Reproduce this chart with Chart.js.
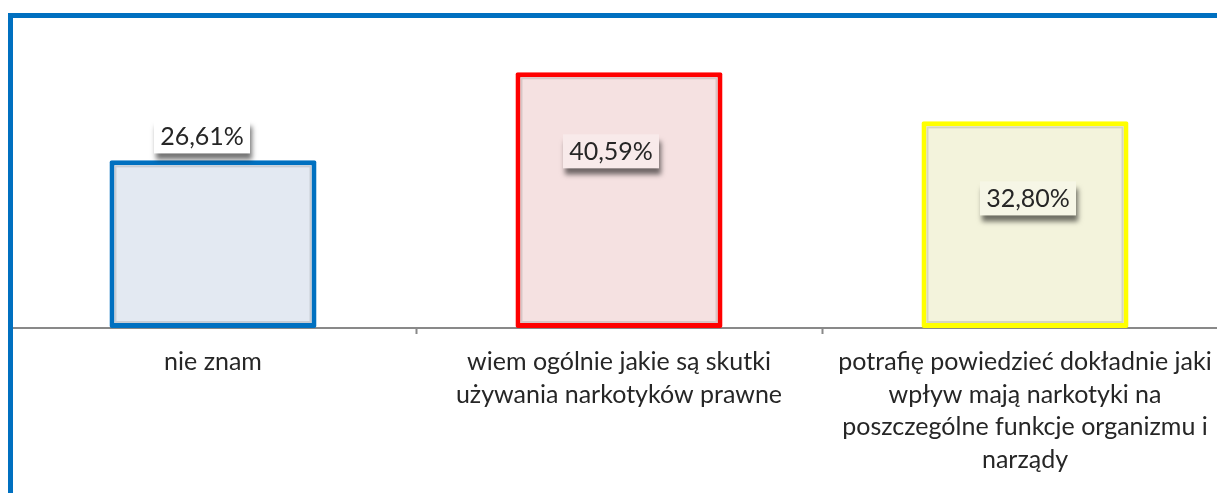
<!DOCTYPE html>
<html>
<head>
<meta charset="utf-8">
<script src="https://cdn.jsdelivr.net/npm/chart.js@4.4.1/dist/chart.umd.min.js"></script>
<style>
  html, body { margin: 0; padding: 0; background: #fff; overflow: hidden; width: 1217px; height: 493px; }
  #wrap  { position: absolute; left: 0; top: 0; width: 1240px; height: 493px; }
  #frame { position: absolute; left: 8px; top: 13px; width: 1300px; height: 600px;
           border-left: 5px solid #0070c0; border-top: 5px solid #0070c0; pointer-events: none; }
</style>
</head>
<body>
<div id="wrap"><canvas id="chart" width="1240" height="493"></canvas></div>
<div id="frame"></div>
<script>
/* Wiedza o skutkach narkotyków — bar chart */

// ── Data ──────────────────────────────────
const categories = [
  ["nie znam"],
  ["wiem ogólnie jakie są skutki", "używania narkotyków prawne"],
  ["potrafię powiedzieć dokładnie jaki", "wpływ mają narkotyki na", "poszczególne funkcje organizmu i", "narządy"],
];
const values      = [26.61, 40.59, 32.80];
const valueLabels = ["26,61%", "40,59%", "32,80%"];

// ── Styles ────────────────────────────────
const borderColors = ["#0070c0", "#ff0000", "#ffff00"];
const fillColors   = ["#e3e9f2", "#f5e1e1", "#f3f3dc"];
const labelShift   = [[-11, -24], [-8, 79], [3, 77]];   // label box centre vs bar top
const FONT = "Lato, 'Open Sans', sans-serif";

// ── Soft inner shade along the bar borders ─
const innerShade = {
  id: "innerShade",
  afterDatasetsDraw(chart) {
    const ctx = chart.ctx;
    ctx.save();
    ctx.strokeStyle = "rgba(0,0,0,0.12)";
    ctx.lineWidth = 2;
    chart.getDatasetMeta(0).data.forEach(bar => {
      const half = bar.width / 2;
      ctx.strokeRect(bar.x - half + 6, bar.y + 6, bar.width - 12, bar.base - bar.y - 12);
    });
    ctx.restore();
  },
};

// ── Data label boxes with shadow ──────────
const boxLabels = {
  id: "boxLabels",
  afterDatasetsDraw(chart) {
    const ctx  = chart.ctx;
    const meta = chart.getDatasetMeta(0);
    ctx.save();
    ctx.font = "25px " + FONT;
    meta.data.forEach((bar, i) => {
      const cx = bar.x + labelShift[i][0];
      const cy = bar.y + labelShift[i][1];
      const w = 96, h = 34;
      const inside = cy > bar.y;
      ctx.save();
      ctx.shadowColor   = "rgba(0,0,0,0.55)";
      ctx.shadowBlur    = 5;
      ctx.shadowOffsetX = 2;
      ctx.shadowOffsetY = 7;
      ctx.fillStyle = inside ? fillColors[i] : "#ffffff";
      ctx.fillRect(cx - w / 2, cy - h / 2, w, h);
      ctx.restore();
      ctx.fillStyle = "rgba(255,255,255,0.3)";
      ctx.fillRect(cx - w / 2, cy - h / 2, w, h);
      ctx.fillStyle    = "#262626";
      ctx.textAlign    = "center";
      ctx.textBaseline = "middle";
      ctx.fillText(valueLabels[i], cx, cy + 1);
    });
    ctx.restore();
  },
};

new Chart(document.getElementById("chart"), {
  type: "bar",
  data: {
    labels: categories,
    datasets: [{
      data: values,
      backgroundColor: fillColors,
      borderColor:     borderColors,
      borderWidth:     5,
      borderSkipped:   false,
      borderRadius:    2,
      categoryPercentage: 1,
      barPercentage:   0.51,
    }],
  },
  options: {
    responsive: false,
    animation:  false,
    layout: { padding: { left: 10, right: 12, top: 13, bottom: 0 } },
    plugins: { legend: { display: false }, tooltip: { enabled: false } },
    scales: {
      y: { display: false, min: 0, max: 50 },
      x: {
        z: 1,
        afterFit: scale => { scale.height = 165; },
        border: { color: "#898989", width: 2 },
        grid: {
          offset: true,
          drawOnChartArea: false,
          drawTicks: true,
          tickLength: 6,
          tickWidth: 2,
          tickColor: "#898989",
        },
        ticks: {
          autoSkip: false,
          maxRotation: 0,
          padding: 12,
          color: "#262626",
          font: { family: FONT, size: 25, lineHeight: 1.3 },
        },
      },
    },
  },
  plugins: [innerShade, boxLabels],
});
</script>
</body>
</html>
